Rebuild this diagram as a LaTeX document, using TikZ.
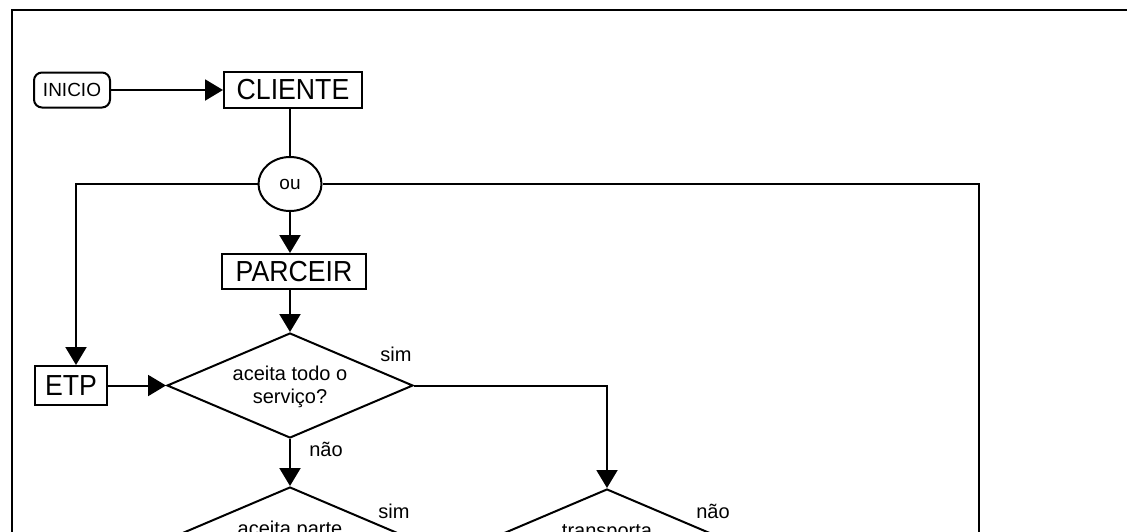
\documentclass[tikz,border=0pt]{standalone}
\usepackage{fontspec}
\setmainfont{Liberation Sans}
\newfontfamily\boxfont{Liberation Sans}[FakeStretch=0.92]
\usetikzlibrary{shapes.geometric,arrows.meta,positioning,calc}

\begin{document}
\begin{tikzpicture}[
    x=1pt, y=-1pt,
    proc/.style={rectangle, draw, line width=2pt, inner sep=0pt, font=\boxfont\fontsize{29}{32}\selectfont},
    term/.style={rectangle, draw, line width=2pt, rounded corners=8pt, minimum width=76pt, minimum height=35pt, inner sep=0pt, font=\fontsize{19}{21}\selectfont},
    orgate/.style={ellipse, draw, line width=2pt, minimum width=63pt, minimum height=54pt, inner sep=0pt, font=\fontsize{19}{21}\selectfont},
    decision/.style={diamond, aspect=2.34, draw, line width=2pt, minimum width=246pt, minimum height=105pt, inner sep=1pt, align=center, font=\fontsize{20}{23}\selectfont},
    lbl/.style={font=\fontsize{20}{22}\selectfont},
    line/.style={line width=2pt},
    arrow/.style={line, -{Triangle[length=18pt,width=21pt]}}
]
    \useasboundingbox (0,0) rectangle (1127,531);
    \clip (0,0) rectangle (1127,531);

    % page frame
    \draw[line width=2.5pt] (12,10) rectangle (1200,640);

    \node[orgate] (ou) at (290,184) {ou};
    \node[proc, minimum width=138pt, minimum height=36pt, above=47pt of ou, xshift=3pt] (cliente) {CLIENTE};
    \node[term, left=112pt of cliente] (inicio) {INICIO};
    \node[proc, minimum width=144pt, minimum height=35pt, below=41pt of ou, xshift=4pt] (parceir) {PARCEIR};
    \node[decision, below=42pt of parceir, xshift=-4pt] (todo) {\rule{0pt}{18pt}aceita todo o\\serviço?};
    \node[proc, minimum width=72pt, minimum height=39pt, left=58pt of todo] (etp) {ETP};
    \node[decision, below=47pt of todo] (parte) {\rule{0pt}{21pt}aceita parte\\\strut};
    \node[decision, right=69pt of parte, yshift=-2pt] (transp) {\rule{0pt}{21pt}transporta\\\strut};
    \coordinate (outright) at (979,620);

    \draw[arrow] (inicio) -- (cliente);
    \draw[line] (cliente.south -| ou) -- (ou);
    \draw[arrow] (ou) -- (ou |- parceir.north);
    \draw[arrow] (ou |- parceir.south) -- (todo);
    \draw[arrow] (ou.west) -| ([xshift=5pt]etp.north);
    \draw[line] (ou.east) -| (outright);
    \draw[arrow] (etp) -- (todo);
    \draw[arrow] (todo.east) -| (transp.north);
    \draw[arrow] (todo) -- (parte);

    \node[lbl] (simtodo) at ($(todo.east)+(-18,-31)$) {sim};
    \node[lbl] (naotodo) at ($(todo.south)+(36,10)$) {não};
    \node[lbl] (simparte) at ($(parte.east)+(-20,-28)$) {sim};
    \node[lbl] (naotransp) at ($(transp.east)+(-18,-30)$) {não};
\end{tikzpicture}
\end{document}
